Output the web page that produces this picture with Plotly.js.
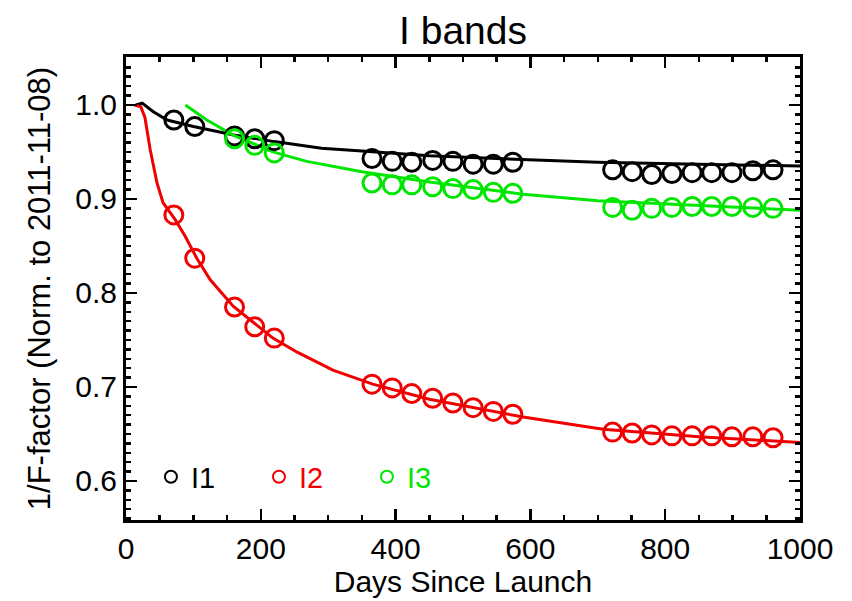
<!DOCTYPE html>
<html>
<head>
<meta charset="utf-8">
<script src="https://cdn.plot.ly/plotly-3.0.1.min.js"></script>
<style>html,body{margin:0;padding:0;background:#fff;}#chart{width:852px;height:601px;}</style>
</head>
<body>
<div id="chart"></div>
<script>
// Observation days (days since launch)
const i1Days = [71, 102, 161, 191, 220, 365, 395, 424, 455, 485, 515, 545, 574, 722, 751, 780, 810, 840, 869, 899, 930, 960];
const i1Vals = [0.984, 0.977, 0.967, 0.964, 0.962, 0.943, 0.940, 0.939, 0.941, 0.940, 0.937, 0.937, 0.939, 0.931, 0.929, 0.926, 0.927, 0.928, 0.928, 0.928, 0.930, 0.931];

const i2Days = [71, 102, 161, 191, 220, 365, 395, 424, 455, 485, 515, 545, 574, 722, 751, 780, 810, 840, 869, 899, 930, 960];
const i2Vals = [0.883, 0.837, 0.785, 0.764, 0.752, 0.703, 0.699, 0.693, 0.688, 0.683, 0.678, 0.674, 0.671, 0.652, 0.651, 0.649, 0.648, 0.648, 0.648, 0.647, 0.647, 0.646];

const i3Days = [161, 191, 220, 365, 395, 424, 455, 485, 515, 545, 574, 722, 751, 780, 810, 840, 869, 899, 930, 960];
const i3Vals = [0.964, 0.957, 0.949, 0.917, 0.915, 0.915, 0.913, 0.911, 0.910, 0.907, 0.906, 0.891, 0.888, 0.890, 0.891, 0.892, 0.892, 0.892, 0.891, 0.890];

// Fitted trend curves
const i1FitDays = [15, 24, 40, 61, 100, 160, 220, 290, 350, 450, 550, 700, 850, 1000];
const i1FitVals = [1.000, 1.002, 0.993, 0.984, 0.977, 0.968, 0.961, 0.954, 0.951, 0.946, 0.943, 0.939, 0.937, 0.935];

const i2FitDays = [13, 22, 28, 36, 46, 55, 73, 88, 105, 125, 159, 218, 254, 307, 366, 450, 589, 708, 850, 1000];
const i2FitVals = [1.000, 0.998, 0.987, 0.952, 0.917, 0.896, 0.878, 0.860, 0.837, 0.814, 0.786, 0.752, 0.737, 0.718, 0.703, 0.687, 0.668, 0.655, 0.647, 0.641];

const i3FitDays = [88, 120, 159, 218, 268, 350, 450, 589, 700, 850, 1000];
const i3FitVals = [1.000, 0.984, 0.968, 0.950, 0.940, 0.929, 0.918, 0.905, 0.898, 0.893, 0.888];

const bandNames = ['I1', 'I2', 'I3'];
const colors = ['#000000', '#f00000', '#00e600'];

const FONT = 'Liberation Sans, Arial, Helvetica, sans-serif';

function fitTrace(x, y, c) {
  return {x: x, y: y, mode: 'lines', type: 'scatter', line: {color: c, width: 3}, showlegend: false, hoverinfo: 'skip'};
}
function ptTrace(x, y, c, name) {
  return {x: x, y: y, mode: 'markers', type: 'scatter', name: '<span style="color:' + c + '">' + name + '</span>',
    marker: {symbol: 'circle-open', size: 18, color: c, line: {color: c, width: 3}}};
}

const data = [
  fitTrace(i1FitDays, i1FitVals, colors[0]),
  fitTrace(i2FitDays, i2FitVals, colors[1]),
  fitTrace(i3FitDays, i3FitVals, colors[2]),
  ptTrace(i1Days, i1Vals, colors[0], bandNames[0]),
  ptTrace(i2Days, i2Vals, colors[1], bandNames[1]),
  ptTrace(i3Days, i3Vals, colors[2], bandNames[2])
];

const axisCommon = {
  showgrid: false, zeroline: false, showline: true, linecolor: '#000', linewidth: 3,
  mirror: 'allticks', ticks: 'inside', tickcolor: '#000', tickwidth: 2.5, ticklen: 11,
  tickfont: {family: FONT, size: 30, color: '#000'}
};

const layout = {
  width: 852, height: 601,
  paper_bgcolor: '#fff', plot_bgcolor: '#fff',
  margin: {l: 126, r: 52, t: 57, b: 81},
  font: {family: FONT, color: '#000'},
  title: {text: 'I bands', font: {family: FONT, size: 39, color: '#000'}, x: 0.5, xref: 'paper', xanchor: 'center', y: 1 - 30/601, yref: 'container', yanchor: 'middle'},
  xaxis: Object.assign({}, axisCommon, {
    range: [0, 1000], tickvals: [0, 200, 400, 600, 800, 1000], ticktext: ['0', '200', '400', '600', '800', '1000'],
    minor: {ticks: 'inside', dtick: 50, ticklen: 5, tickwidth: 2.5, tickcolor: '#000', showgrid: false},
    title: {text: 'Days Since Launch', font: {family: FONT, size: 30, color: '#000'}, standoff: 2}
  }),
  yaxis: Object.assign({}, axisCommon, {
    range: [0.5585, 1.051], tickvals: [0.6, 0.7, 0.8, 0.9, 1.0], ticktext: ['0.6', '0.7', '0.8', '0.9', '1.0'],
    minor: {ticks: 'inside', dtick: 0.01, tick0: 0.6, ticklen: 5, tickwidth: 2.5, tickcolor: '#000', showgrid: false},
    title: {text: '1/F-factor (Norm. to 2011-11-08)', font: {family: FONT, size: 31, color: '#000'}, standoff: 16}
  }),
  showlegend: true,
  legend: {
    orientation: 'h', x: 0.037, xanchor: 'left', y: 0.093, yanchor: 'middle',
    bgcolor: 'rgba(0,0,0,0)', borderwidth: 0, itemsizing: 'constant',
    entrywidth: 63, entrywidthmode: 'pixels',
    font: {family: FONT, size: 29}
  }
};

Plotly.newPlot('chart', data, layout, {displayModeBar: false, staticPlot: true});
</script>
</body>
</html>
